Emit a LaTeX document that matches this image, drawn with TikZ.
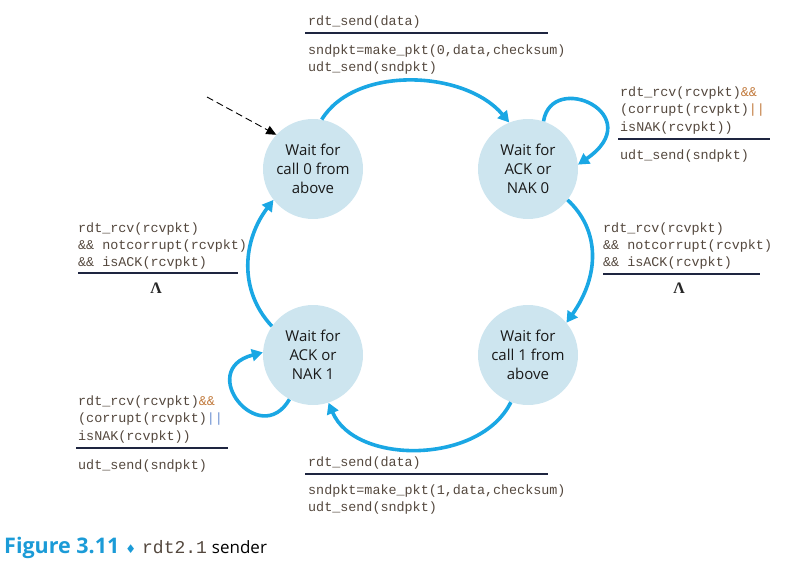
\documentclass[tikz,border=0pt]{standalone}
\usepackage{fontspec}
\setmainfont{Open Sans}
\newfontfamily\monof{Liberation Mono}
\newfontfamily\symf{DejaVu Sans}
\newfontfamily\lamf{Liberation Serif}
\usetikzlibrary{arrows.meta}
\definecolor{arcblue}{HTML}{1AA7E4}
\definecolor{statefill}{HTML}{CDE5EF}
\definecolor{codegray}{HTML}{54483E}
\definecolor{ruleblue}{HTML}{1E2540}
\definecolor{opor}{HTML}{C0783A}
\definecolor{opblue}{HTML}{6A8ED0}
\definecolor{capblue}{HTML}{1B9BD7}
\tikzset{
  state/.style={circle, fill=statefill, minimum size=100pt, inner sep=0pt, align=center,
    font=\fontsize{15}{19}\selectfont, text=black!90},
  arc/.style={draw=arcblue, line width=3.6pt, -{Triangle[length=11pt,width=12pt]}},
  code/.style={anchor=base west, inner sep=0pt, text=codegray, font=\monof\fontsize{13.4}{17}\selectfont},
  guard/.style={draw=ruleblue, line width=1.3pt},
  lam/.style={anchor=base, inner sep=0pt, text=black!85, font=\lamf\bfseries\fontsize{16}{16}\selectfont}
}
\begin{document}
\begin{tikzpicture}[x=1pt,y=-1pt]
\useasboundingbox (0,0) rectangle (804,562);
% states
\node[state] (A) at (313,169) {Wait for\\call 0 from\\above};
\node[state] (B) at (528,169) {Wait for\\ACK or\\NAK 0};
\node[state] (C) at (528,355) {Wait for\\call 1 from\\above};
\node[state] (D) at (313,355) {Wait for\\ACK or\\NAK 1};
% initial
\coordinate (init) at (207,97);
\draw[dashed, dash pattern=on 7pt off 4pt, line width=0.9pt, -{Triangle[length=10pt,width=9pt]}] (init) -- (A.137);
% transitions
\draw[arc] (A.80) .. controls (355,65) and (465,70) .. (B.112);
\draw[arc] (B.-38) .. controls (600,230) and (600,275) .. (C.40);
\draw[arc] (C.-110) .. controls (480,465) and (355,465) .. (D.-72);
\draw[arc] (D.145) .. controls (238,290) and (243,240) .. (A.-142);
\draw[arc] (B.72) .. controls (552,70) and (650,115) .. (B.5);
\draw[arc] (D.-118) .. controls (260,450) and (195,370) .. (D.177);
% top label
\node[code] (t1) at (308,25) {rdt\_send(data)};
\draw[guard] (305,33) -- (548,33);
\node[code] (t2) at (308,54) {sndpkt=make\_pkt(0,data,checksum)};
\node[code] (t3) at (308,71) {udt\_send(sndpkt)};
% top right label
\node[code] (r1) at (620,96) {rdt\_rcv(rcvpkt)\textcolor{opor}{\&\&}};
\node[code] (r2) at (620,113) {(corrupt(rcvpkt)\textcolor{opor}{||}};
\node[code] (r3) at (620,131) {isNAK(rcvpkt))};
\draw[guard] (618,139) -- (770,139);
\node[code] (r4) at (620,159) {udt\_send(sndpkt)};
% left label
\node[code] (l1) at (78,232) {rdt\_rcv(rcvpkt)};
\node[code] (l2) at (78,249) {\&\& notcorrupt(rcvpkt)};
\node[code] (l3) at (78,266) {\&\& isACK(rcvpkt)};
\draw[guard] (78,273) -- (238,273);
\node[lam] (l4) at (156,293) {Λ};
% right label
\node[code] (m1) at (603,232) {rdt\_rcv(rcvpkt)};
\node[code] (m2) at (603,249) {\&\& notcorrupt(rcvpkt)};
\node[code] (m3) at (603,266) {\&\& isACK(rcvpkt)};
\draw[guard] (603,274) -- (760,274);
\node[lam] (m4) at (679,293) {Λ};
% bottom left label
\node[code] (b1) at (78,405) {rdt\_rcv(rcvpkt)\textcolor{opor}{\&\&}};
\node[code] (b2) at (78,422) {(corrupt(rcvpkt)\textcolor{opblue}{||}};
\node[code] (b3) at (78,440) {isNAK(rcvpkt))};
\draw[guard] (76,448) -- (228,448);
\node[code] (b4) at (78,469) {udt\_send(sndpkt)};
% bottom label
\node[code] (u1) at (308,466) {rdt\_send(data)};
\draw[guard] (305,474) -- (548,474);
\node[code] (u2) at (308,494) {sndpkt=make\_pkt(1,data,checksum)};
\node[code] (u3) at (308,511) {udt\_send(sndpkt)};
% caption
\node[anchor=base west, inner sep=0pt] (cap) at (4,553)
  {\textcolor{capblue}{\fontsize{21.5}{21.5}\selectfont\bfseries Figure 3.11}\hspace{6pt}{\textcolor{capblue}{\symf\fontsize{12}{12}\selectfont ♦}}\hspace{6pt}{\monof\fontsize{18}{18}\selectfont\color{codegray}rdt2.1}\hspace{5pt}{\fontsize{17}{17}\selectfont sender}};
\end{tikzpicture}
\end{document}
